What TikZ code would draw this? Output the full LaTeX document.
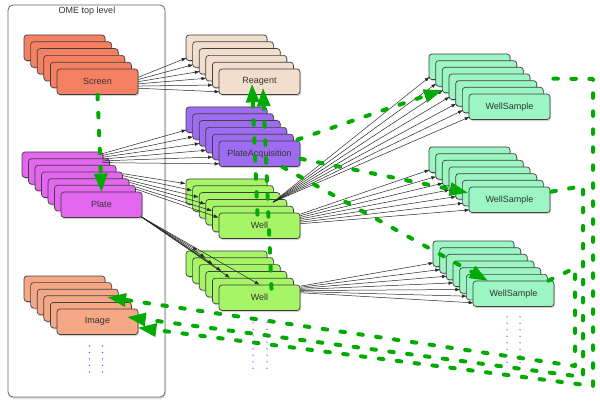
\documentclass[tikz,border=0pt]{standalone}
\usepackage{fontspec}
\setmainfont{Liberation Sans}
\usetikzlibrary{calc,shadows,arrows.meta}
\definecolor{screencol}{RGB}{246,128,98}
\definecolor{platecol}{RGB}{226,102,238}
\definecolor{imagecol}{RGB}{246,168,134}
\definecolor{reagentcol}{RGB}{241,222,204}
\definecolor{acqcol}{RGB}{157,108,240}
\definecolor{wellcol}{RGB}{166,245,102}
\definecolor{samplecol}{RGB}{155,246,196}
\definecolor{omegreen}{RGB}{0,170,0}
\definecolor{dotcol}{RGB}{115,60,255}

\begin{document}
\begin{tikzpicture}[x=1pt,y=-1pt]
\tikzset{every node/.style={font=\fontsize{9}{10}\selectfont, text=black!80}}
\tikzset{frame/.style={draw=black!60, line width=0.8pt, rounded corners=5pt, fill=white, drop shadow={opacity=0.25, shadow xshift=1pt, shadow yshift=-2pt}}}
\tikzset{obj/.style={draw=black!75, line width=0.7pt, rounded corners=3pt, minimum width=81pt, minimum height=25.5pt, inner sep=0pt, drop shadow={opacity=0.35, shadow xshift=1pt, shadow yshift=-1.5pt}}}
\tikzset{link/.style={black!85, line width=0.5pt, -{Latex[length=5pt,width=3.5pt]}}}
\tikzset{flow/.style={draw=omegreen, line width=4pt, line cap=round, line join=round, dash pattern=on 4.5pt off 13.5pt, -{Triangle[length=18pt,width=14pt,line width=0pt]}}}
\tikzset{more/.style={draw=dotcol, line width=1.3pt, line cap=round, dash pattern=on 0pt off 6.5pt}}
\fill[white] (0,0) rectangle (600,409);
\useasboundingbox (0,0) rectangle (600,409);
\draw[frame] (8,5) rectangle (165,397);
\node (toplevel) at (87,11) {OME top level};
\foreach \nm/\x/\y/\n/\dx/\dy/\col/\txt in {
  scr/24/35/5/6.6/6.8/screencol/Screen,
  plt/22/152/6/6.5/6.67/platecol/Plate,
  img/24/276/5/6.6/6.6/imagecol/Image,
  rea/186/35/5/6.6/6.8/reagentcol/Reagent,
  pa/186/107/5/6.6/6.8/acqcol/PlateAcquisition,
  wa/186/179/5/6.6/6.8/wellcol/Well,
  wb/186/251/5/6.6/6.8/wellcol/Well,
  wsa/429/54/6/6.67/6.67/samplecol/WellSample,
  wsb/429/147/6/6.67/6.67/samplecol/WellSample,
  wsc/433/241/6/6.67/6.67/samplecol/WellSample}
  \foreach \i in {0,...,\n}
    \node[obj, fill=\col] (\nm\i) at (\x+\i*\dx+40.5, \y+\i*\dy+12.75) {\ifnum\i=\n\relax\txt\fi};

\foreach \i in {0,...,5}
  \draw[link] ($(scr5.east)+(0,-4.5+2.2*\i)$) -- ($(rea\i.south west)+(1,-3)$);
\foreach \i in {0,...,5}
  \draw[link] ($(plt0.north east)+(-1,2+1.8*\i)$) -- ($(pa\i.south west)+(1,-3)$);
\foreach \i/\j/\o in {0/3/2,1/3/4,2/4/2,3/4/4,4/5/2,5/5/4}
  \draw[link] ($(plt\j.north east)+(0,\o)$) -- ($(wa\i.north west)+(0,5)$);
\foreach \i/\a in {0/12,1/13,2/14,3/16,4/18,5/41}
  \draw[link] ($(plt6.south east)+(-1,-1)$) -- ($(wb\i.north west)+(\a,0)$);
\foreach \i in {0,...,6}
  \draw[link] ($(wa3.north east)+(-14,3)$) -- ($(wsa\i.south west)+(1,-3)$);
\foreach \i in {0,...,6}
  \draw[link] ($(wa5.north east)+(0,1.5+1.6*\i)$) -- ($(wsb\i.south west)+(1,-3)$);
\foreach \i in {0,...,6}
  \draw[link] ($(wb5.north east)+(0,1.5+1.1*\i)$) -- ($(wsc\i.south west)+(1,-4)$);

\coordinate (ka1) at (593,79);
\coordinate (kb1) at (593,386);
\coordinate (ka2) at (583,186);
\coordinate (kb2) at (583,377);
\coordinate (ka3) at (575,268);
\coordinate (kb3) at (575,366);
\draw[flow] (scr5.south) -- (plt6.north);
\draw[flow] ($(wa5.north)+(-2,2)$) -- ($(rea5.south)+(-7.5,-10.5)$);
\draw[flow] ($(wb5.north)+(12,4)$) -- ($(rea5.south)+(3.5,-6.5)$);
\draw[flow] ($(pa5.north east)+(-3,-1)$) -- ($(wsa2.south west)+(0,-3)$);
\draw[flow] ($(pa5.east)+(0,5)$) -- ($(wsb6.north west)+(-1,6)$);
\draw[flow] ($(pa5.south east)+(-18,0)$) -- ($(wsc6.north west)+(15,0)$);
\draw[flow] ($(wsa6.north east)+(3,-15)$) -- (ka1) -- (kb1) -- ($(img5.east)+(0,6)$);
\draw[flow] ($(wsb6.north east)+(1,5)$) -- (ka2) -- (kb2) -- ($(img4.east)+(-4,2)$);
\draw[flow] ($(wsc6.north east)+(-6,0)$) -- (ka3) -- (kb3) -- ($(img1.east)+(-4,2)$);

\draw[more] ($(img5.south)+(-8,11)$) -- ($(img5.south)+(-8,42)$);
\draw[more] ($(img5.south)+(5,11)$) -- ($(img5.south)+(5,42)$);
\draw[more] ($(wb5.south)+(-6.5,12)$) -- ($(wb5.south)+(-6.5,58)$);
\draw[more] ($(wb5.south)+(7.5,12)$) -- ($(wb5.south)+(7.5,58)$);
\draw[more] ($(wsc6.south)+(-6.5,10)$) -- ($(wsc6.south)+(-6.5,56)$);
\draw[more] ($(wsc6.south)+(6.5,10)$) -- ($(wsc6.south)+(6.5,56)$);
\end{tikzpicture}
\end{document}
